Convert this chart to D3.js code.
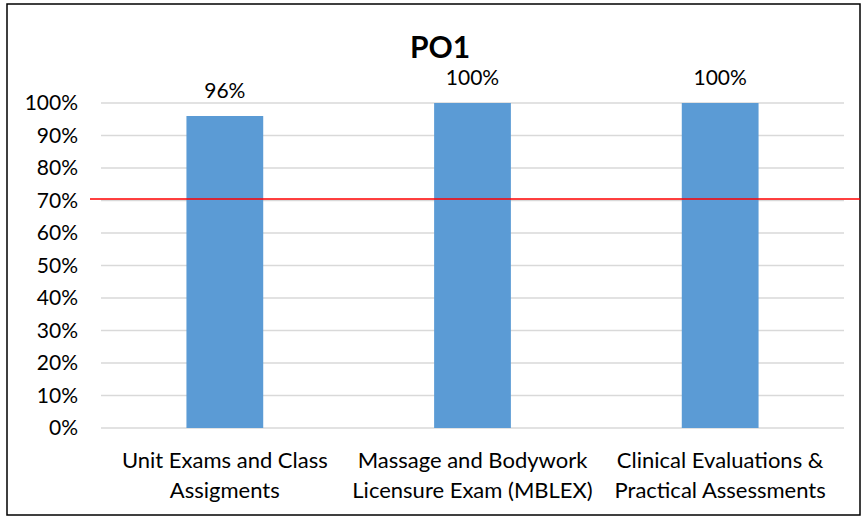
<!DOCTYPE html>
<meta charset="utf-8">
<style>
body { margin: 0; background: #fff; font-family: Lato, "Open Sans", sans-serif; }
</style>
<body>
<script src="https://d3js.org/d3.v7.min.js"></script>
<script>
// chart data
var categories = [
  ["Unit Exams and Class", "Assigments"],
  ["Massage and Bodywork", "Licensure Exam (MBLEX)"],
  ["Clinical Evaluations &", "Practical Assessments"]
];
var values = [96, 100, 100];
var valueLabels = ["96%", "100%", "100%"];
var yTicks = [0, 10, 20, 30, 40, 50, 60, 70, 80, 90, 100];
var target = 70.5;

var W = 864, H = 519;
var margin = {top: 103, right: 20, bottom: 91, left: 101};
var width = 844 - margin.left, height = 428 - margin.top;

var svg = d3.select("body").append("svg")
    .attr("width", W)
    .attr("height", H);

// outer frame
svg.append("rect")
    .attr("x", 7).attr("y", 4)
    .attr("width", 853).attr("height", 511)
    .attr("fill", "#fff")
    .attr("stroke", "#000")
    .attr("stroke-width", 1.5);

svg.append("text")
    .attr("x", 440).attr("y", 58)
    .attr("text-anchor", "middle")
    .style("font-size", "30px")
    .style("font-weight", "bold")
    .text("PO1");

var g = svg.append("g")
    .attr("transform", "translate(" + margin.left + "," + margin.top + ")");

var x = d3.scaleBand()
    .domain(d3.range(categories.length))
    .range([0, width])
    .paddingInner(0.69)
    .paddingOuter(0.345);

var y = d3.scaleLinear().domain([0, 100]).range([height, 0]);

// gridlines
g.selectAll(".grid").data(yTicks).enter().append("line")
    .attr("x1", 0).attr("x2", width)
    .attr("y1", function(d) { return y(d); })
    .attr("y2", function(d) { return y(d); })
    .attr("stroke", "#d9d9d9")
    .attr("stroke-width", 1.5);

// y axis labels
var yAxis = g.append("g")
    .call(d3.axisLeft(y).tickValues(yTicks).tickSize(0).tickPadding(23)
      .tickFormat(function(d) { return d + "%"; }));
yAxis.select(".domain").remove();
yAxis.selectAll("text")
    .style("font-family", "Lato, sans-serif")
    .style("font-size", "21px")
    .attr("fill", "#000");

// bars
g.selectAll(".bar").data(values).enter().append("rect")
    .attr("x", function(d, i) { return x(i); })
    .attr("y", function(d) { return y(d); })
    .attr("width", x.bandwidth())
    .attr("height", function(d) { return height - y(d); })
    .attr("fill", "#5b9bd5");

// value labels
g.selectAll(".vlab").data(values).enter().append("text")
    .attr("x", function(d, i) { return x(i) + x.bandwidth() / 2; })
    .attr("y", function(d) { return y(d) - 18; })
    .attr("text-anchor", "middle")
    .style("font-size", "21px")
    .text(function(d, i) { return valueLabels[i]; });

// category labels
categories.forEach(function(lines, i) {
  var t = g.append("text")
      .attr("x", x(i) + x.bandwidth() / 2)
      .attr("y", height + 40)
      .attr("text-anchor", "middle")
      .style("font-size", "22px");
  lines.forEach(function(s, k) {
    t.append("tspan")
      .attr("x", x(i) + x.bandwidth() / 2)
      .attr("dy", k ? 30 : 0)
      .text(s);
  });
});

// target line
svg.append("line")
    .attr("x1", 90).attr("x2", 860)
    .attr("y1", margin.top + y(target))
    .attr("y2", margin.top + y(target))
    .attr("stroke", "#ff0000")
    .attr("stroke-width", 1.5);
</script>
</body>
